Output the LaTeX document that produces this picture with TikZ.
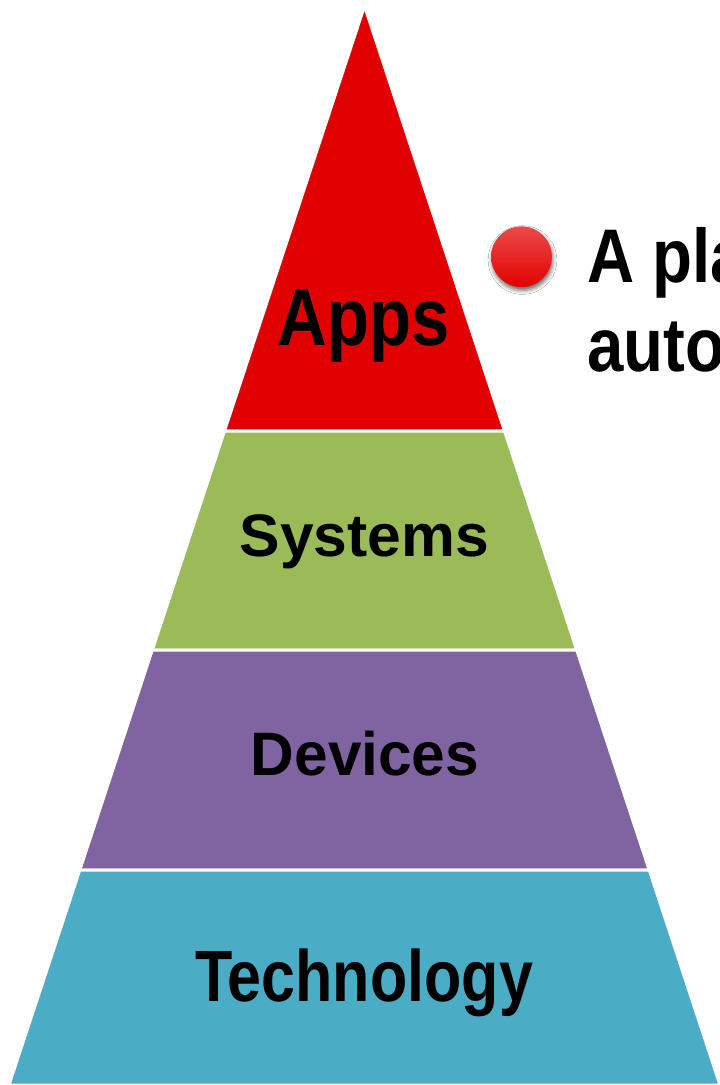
\documentclass[tikz,border=0pt]{standalone}
\usepackage{fontspec}
\setmainfont{Liberation Sans}
\usetikzlibrary{shadows,shadows.blur,fadings}

\definecolor{tierRed}{HTML}{E00000}
\definecolor{tierGreen}{HTML}{9BBB59}
\definecolor{tierPurple}{HTML}{8064A2}
\definecolor{tierTeal}{HTML}{4BACC6}
\definecolor{ballTop}{HTML}{EC4A4A}
\definecolor{ballBottom}{HTML}{E30000}

\begin{document}
\begin{tikzpicture}[x=0.75pt,y=-0.75pt,
  tier/.style={draw=white, line width=2.25pt, line join=miter},
  lbl/.style={anchor=base, inner sep=0pt, text=black},
  bodytext/.style={anchor=base west, inner sep=0pt, text=black,
    font=\fontsize{57pt}{60pt}\selectfont\bfseries},
]
\useasboundingbox (0,0) rectangle (720,1085);
\clip (0,0) rectangle (720,1085);
\fill[white] (0,0) rectangle (720,1085);

% corner points of the pyramid tiers
\coordinate (apex) at (364.5,6);
\coordinate (l1) at (224.5,431);  \coordinate (r1) at (504.5,431);
\coordinate (l2) at (152.3,650);  \coordinate (r2) at (576.7,650);
\coordinate (l3) at (79.8,870);   \coordinate (r3) at (649.2,870);
\coordinate (l4) at (9.0,1085);   \coordinate (r4) at (720.0,1085);

% tiers, separated by thin white gaps
\path[tier, fill=tierRed]    (apex) -- (r1) -- (l1) -- cycle;
\path[tier, fill=tierGreen]  (l1) -- (r1) -- (r2) -- (l2) -- cycle;
\path[tier, fill=tierPurple] (l2) -- (r2) -- (r3) -- (l3) -- cycle;
\path[tier, fill=tierTeal]   (l3) -- (r3) -- (r4) -- (l4) -- cycle;

% tier labels
\node[lbl, font=\fontsize{60.75pt}{64pt}\selectfont\bfseries] (apps) at (363.5,345) {\scalebox{0.85}[1]{Apps}};
\node[lbl, font=\fontsize{45pt}{48pt}\selectfont\bfseries] (systems) at (364.5,556) {\scalebox{1.01}[1]{Systems}};
\node[lbl, font=\fontsize{46pt}{49pt}\selectfont\bfseries] (devices) at (365,775) {\scalebox{0.985}[1]{Devices}};
\node[lbl, font=\fontsize{54.5pt}{58pt}\selectfont\bfseries] (technology) at (364,1001) {\scalebox{0.84}[1]{Technology}};

% bullet point and its text
\node[circle, inner sep=0pt, minimum size=45.5pt,
      top color=ballTop, bottom color=ballBottom,
      blur shadow={shadow xshift=0.75pt, shadow yshift=-2.5pt,
                   shadow blur radius=3pt, shadow opacity=60}]
      (bullet) at (521.5,256.7) {};
\node[bodytext] (line1) at (587,282) {\scalebox{0.86}[1]{A pla}};
\node[bodytext] (line2) at (587,371.5) {\scalebox{0.86}[1]{auto}};
\end{tikzpicture}
\end{document}
